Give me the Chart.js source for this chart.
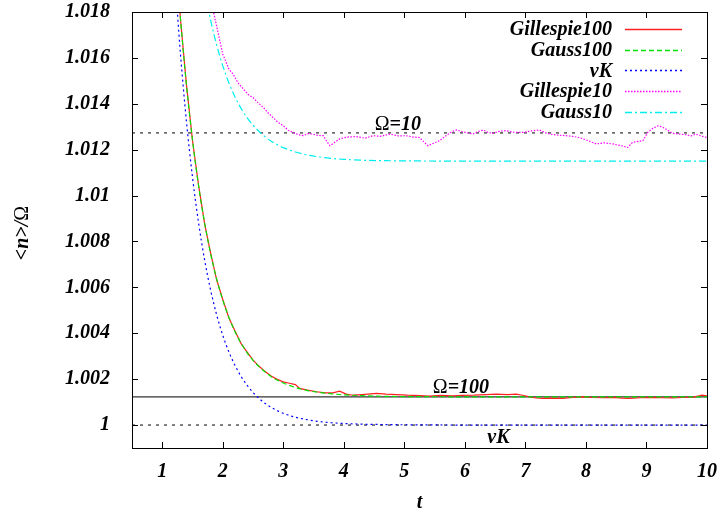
<!DOCTYPE html>
<html lang="en">
<head>
<meta charset="UTF-8">
<title>Mean copy number relaxation</title>
<script src="https://cdn.jsdelivr.net/npm/chart.js@4.4.0/dist/chart.umd.min.js"></script>
<style>
  html, body { margin: 0; padding: 0; background: #fff; }
  canvas { display: block; }
</style>
</head>
<body>
<canvas id="meanChart" width="720" height="513"></canvas>
<script>
// time grid shared by the smooth Ω=100 curves
const tSmooth = [1.2, 1.3, 1.4, 1.5, 1.6, 1.7, 1.8, 1.9, 2.0, 2.1, 2.2, 2.3, 2.4, 2.5, 2.6, 2.7, 2.8, 2.9, 3.0,
                 3.2, 3.4, 3.6, 3.8, 4.0, 4.3, 4.7, 5.2, 6, 7, 8, 9, 10];
const gauss100 = [1.0213, 1.01774, 1.01481, 1.01241, 1.01042, 1.0088, 1.00745, 1.00635, 1.00544, 1.0047,
                  1.00408, 1.00358, 1.00316, 1.00282, 1.00254, 1.00231, 1.00211, 1.00196, 1.00183,
                  1.00164, 1.0015, 1.00142, 1.00136, 1.00132, 1.00128, 1.00125, 1.00124, 1.00123, 1.00123, 1.00123, 1.00123, 1.00123];
const vanKampen = [1.01984, 1.0162, 1.01322, 1.01079, 1.00881, 1.00719, 1.00587, 1.00479, 1.00391, 1.00319,
                   1.00261, 1.00213, 1.00174, 1.00142, 1.00116, 1.00094, 1.00077, 1.00063, 1.00051,
                   1.00034, 1.00023, 1.00015, 1.0001, 1.00007, 1.00004, 1.00002, 1.00001, 1, 1, 1, 1, 1];

// stochastic run, Ω=100
const tG100 = [1.2, 1.3, 1.4, 1.5, 1.6, 1.7, 1.8, 1.9, 2.0, 2.1, 2.2, 2.3, 2.4, 2.5, 2.6, 2.7, 2.8, 2.9, 3.0,
               3.1, 3.2, 3.27, 3.4, 3.55, 3.7, 3.82, 3.93, 4.04, 4.15,
               4.3, 4.54, 4.7, 4.87, 5.05, 5.25, 5.42, 5.6, 5.8, 5.96,
               6.15, 6.35, 6.52, 6.7, 6.85, 6.95, 7.07, 7.18, 7.29, 7.45,
               7.62, 7.78, 7.95, 8.1, 8.28, 8.45, 8.6, 8.72, 8.9, 9.08,
               9.27, 9.43, 9.6, 9.78, 9.92, 10];
const gillespie100 = [1.0213, 1.01772, 1.01483, 1.01239, 1.01045, 1.00877, 1.00748, 1.00632, 1.00547, 1.00468,
                      1.00411, 1.00356, 1.00319, 1.00283, 1.00256, 1.00233, 1.00214, 1.00199, 1.00188,
                      1.00182, 1.00176, 1.0016, 1.00152, 1.00145, 1.0014, 1.0014, 1.00148, 1.00135, 1.0013,
                      1.00133, 1.00138, 1.00135, 1.00133, 1.0013, 1.00128, 1.00126, 1.00129, 1.00127, 1.00129,
                      1.0013, 1.00133, 1.00135, 1.00133, 1.00135, 1.0013, 1.00123, 1.00118, 1.00116, 1.00117,
                      1.00116, 1.0012, 1.00123, 1.0012, 1.00119, 1.00121, 1.00117, 1.00116, 1.00119, 1.00121,
                      1.00119, 1.00118, 1.0012, 1.00122, 1.0013, 1.00127];

// stochastic run, Ω=10
const tG10 = [1.8, 1.85, 1.93, 2.0, 2.1, 2.17, 2.25, 2.34, 2.42, 2.5,
              2.58, 2.67, 2.75, 2.83, 2.91, 3.0, 3.08, 3.16, 3.25, 3.33,
              3.41, 3.49, 3.57, 3.66, 3.72, 3.77, 3.85, 3.93, 4.05, 4.2,
              4.35, 4.48, 4.6, 4.76, 4.9, 5.03, 5.15, 5.25, 5.33, 5.39,
              5.48, 5.58, 5.69, 5.78, 5.86, 5.95, 6.02, 6.13, 6.21, 6.3,
              6.38, 6.46, 6.57, 6.68, 6.8, 6.96, 7.1, 7.23, 7.32, 7.4,
              7.52, 7.67, 7.78, 7.89, 8.03, 8.17, 8.3, 8.44, 8.57, 8.69,
              8.77, 8.86, 8.94, 9.02, 9.1, 9.19, 9.27, 9.32, 9.43, 9.55,
              9.65, 9.74, 9.82, 9.9, 10];
const gillespie10 = [1.0186, 1.01796, 1.017, 1.01616, 1.01552, 1.01529, 1.01492, 1.01464, 1.0144, 1.01427,
                     1.01405, 1.01384, 1.0136, 1.0134, 1.0132, 1.01304, 1.01285, 1.01275, 1.01265, 1.01261,
                     1.0127, 1.01268, 1.01262, 1.01261, 1.01235, 1.01217, 1.01232, 1.01247, 1.01255, 1.01257,
                     1.0125, 1.01261, 1.01258, 1.01268, 1.0126, 1.01261, 1.01255, 1.01253, 1.01232, 1.01217,
                     1.01228, 1.01239, 1.01261, 1.01278, 1.01286, 1.01279, 1.01275, 1.01268, 1.01278, 1.01286,
                     1.01276, 1.01271, 1.0128, 1.01283, 1.01276, 1.01275, 1.01282, 1.01286, 1.01275, 1.01268,
                     1.01264, 1.01261, 1.01258, 1.01253, 1.0124, 1.01225, 1.0123, 1.01225, 1.01218, 1.0121,
                     1.01232, 1.01236, 1.01239, 1.01275, 1.01292, 1.01304, 1.01298, 1.0129, 1.01271, 1.01268,
                     1.01265, 1.0126, 1.01268, 1.0126, 1.01253];

// Gaussian approximation, Ω=10
const tGauss10 = [1.7, 1.8, 1.9, 2.0, 2.1, 2.2, 2.3, 2.4, 2.5, 2.6, 2.7, 2.8, 2.9, 3.0,
                  3.2, 3.4, 3.6, 3.8, 4.0, 4.3, 4.7, 5.2, 6, 7, 8, 9, 10];
const gauss10 = [1.01895, 1.01763, 1.01655, 1.01565, 1.01492, 1.01431, 1.01381, 1.0134, 1.01307, 1.01279,
                 1.01256, 1.01237, 1.01222, 1.01209, 1.0119, 1.01177, 1.01168, 1.01162, 1.01158,
                 1.01154, 1.01152, 1.01151, 1.0115, 1.0115, 1.0115, 1.0115, 1.0115];

// stationary levels
const levelOmega10 = 1.01273;
const levelOmega100 = 1.00123;
const levelVK = 1.0;

const xTicks = [1, 2, 3, 4, 5, 6, 7, 8, 9, 10];
const yTicks = [1, 1.002, 1.004, 1.006, 1.008, 1.01, 1.012, 1.014, 1.016, 1.018];
const yTickLabels = ['1', '1.002', '1.004', '1.006', '1.008', '1.01', '1.012', '1.014', '1.016', '1.018'];

const SERIF = "'Liberation Serif', 'DejaVu Serif', serif";
const BI = 'bold italic 20px ' + SERIF;
const UP = '20px ' + SERIF;

const pairs = (ts, vs) => ts.map((t, i) => ({ x: t, y: vs[i] }));
const flat = v => [{ x: 0.5, y: v }, { x: 10, y: v }];

const curves = [
  { label: 'Gillespie100', data: pairs(tG100, gillespie100), borderColor: '#ff2020', borderDash: [], order: 5 },
  { label: 'Gauss100', data: pairs(tSmooth, gauss100), borderColor: '#00e000', borderDash: [5, 3], order: 4, cubicInterpolationMode: 'monotone' },
  { label: 'vK', data: pairs(tSmooth, vanKampen), borderColor: '#0000ff', borderDash: [2, 3], order: 3, cubicInterpolationMode: 'monotone' },
  { label: 'Gillespie10', data: pairs(tG10, gillespie10), borderColor: '#ff00ff', borderDash: [1.5, 1.5], order: 2 },
  { label: 'Gauss10', data: pairs(tGauss10, gauss10), borderColor: '#00eeee', borderDash: [7, 3, 2, 3], order: 1, cubicInterpolationMode: 'monotone' }
];
curves.forEach(c => { c.borderWidth = 1.2; c.pointRadius = 0; c.fill = false; c.tension = 0; });

const levels = [
  { label: '_o10', data: flat(levelOmega10), borderColor: '#000', borderDash: [3, 5], borderWidth: 1, order: 10 },
  { label: '_o100', data: flat(levelOmega100), borderColor: '#333', borderDash: [], borderWidth: 1.4, order: 9 },
  { label: '_vk', data: flat(levelVK), borderColor: '#000', borderDash: [3, 5], borderWidth: 1, order: 8 }
];
levels.forEach(c => { c.pointRadius = 0; c.fill = false; });

// text placed next to the stationary levels
const levelNotes = [
  { parts: [['Ω', UP], ['=10', BI]], t: 4.51, v: levelOmega10, dy: -3 },
  { parts: [['Ω', UP], ['=100', BI]], t: 5.47, v: levelOmega100, dy: -4 },
  { parts: [['vK', BI]], t: 6.37, v: levelVK, dy: 18 }
];

function drawParts(ctx, parts, x, y) {
  parts.forEach(([s, f]) => {
    ctx.font = f;
    ctx.fillText(s, x, y);
    x += ctx.measureText(s).width;
  });
}
function partsWidth(ctx, parts) {
  return parts.reduce((w, [s, f]) => { ctx.font = f; return w + ctx.measureText(s).width; }, 0);
}

const decorations = {
  id: 'decorations',
  afterDraw(chart) {
    const { ctx, chartArea: a, scales: { x, y } } = chart;
    ctx.save();
    // frame with inward ticks
    ctx.strokeStyle = '#000';
    ctx.lineWidth = 1;
    ctx.setLineDash([]);
    ctx.strokeRect(a.left + 0.5, a.top + 0.5, a.right - a.left, a.bottom - a.top);
    ctx.beginPath();
    x.ticks.forEach(tk => {
      const px = Math.round(x.getPixelForValue(tk.value)) + 0.5;
      ctx.moveTo(px, a.bottom); ctx.lineTo(px, a.bottom - 6);
      ctx.moveTo(px, a.top); ctx.lineTo(px, a.top + 6);
    });
    y.ticks.forEach(tk => {
      const py = Math.round(y.getPixelForValue(tk.value)) + 0.5;
      ctx.moveTo(a.left, py); ctx.lineTo(a.left + 6, py);
      ctx.moveTo(a.right, py); ctx.lineTo(a.right - 6, py);
    });
    ctx.stroke();

    ctx.fillStyle = '#000';
    ctx.textBaseline = 'alphabetic';
    ctx.textAlign = 'left';
    levelNotes.forEach(n => {
      drawParts(ctx, n.parts, x.getPixelForValue(n.t), y.getPixelForValue(n.v) + n.dy);
    });

    // axis titles
    ctx.font = BI;
    ctx.textAlign = 'center';
    ctx.fillText('t', (a.left + a.right) / 2, 508);
    const yTitle = [['<', BI], ['n', BI], ['>/', BI], ['Ω', UP]];
    ctx.translate(28, (a.top + a.bottom) / 2 + 3);
    ctx.rotate(-Math.PI / 2);
    ctx.textAlign = 'left';
    drawParts(ctx, yTitle, -partsWidth(ctx, yTitle) / 2, 0);
    ctx.setTransform(1, 0, 0, 1, 0, 0);

    // key, top right
    ctx.textAlign = 'right';
    ctx.textBaseline = 'middle';
    ctx.font = BI;
    curves.forEach((c, i) => {
      const ry = 29 + i * 20.7;
      ctx.fillStyle = '#000';
      ctx.fillText(c.label, 612, ry + 1);
      ctx.strokeStyle = c.borderColor;
      ctx.lineWidth = 1.3;
      ctx.setLineDash(c.borderDash);
      ctx.beginPath();
      ctx.moveTo(625, Math.round(ry) + 0.5);
      ctx.lineTo(682, Math.round(ry) + 0.5);
      ctx.stroke();
    });
    ctx.restore();
  }
};

new Chart(document.getElementById('meanChart'), {
  type: 'line',
  data: { datasets: [...levels, ...curves] },
  options: {
    responsive: false,
    animation: false,
    devicePixelRatio: 1,
    layout: { padding: { top: 12, right: 13, left: 0, bottom: 0 } },
    plugins: { legend: { display: false }, tooltip: { enabled: false } },
    scales: {
      x: {
        type: 'linear', min: 0.5, max: 10,
        afterBuildTicks: s => { s.ticks = xTicks.map(v => ({ value: v })); },
        afterFit: s => { s.height = 65; s.paddingLeft = 0; s.paddingRight = 0; },
        grid: { display: false }, border: { display: false },
        ticks: { autoSkip: false, maxRotation: 0, padding: 4, color: '#000',
                 font: { family: SERIF, size: 20, style: 'italic', weight: 'bold' } }
      },
      y: {
        type: 'linear', min: 0.999, max: 1.018,
        afterBuildTicks: s => { s.ticks = yTicks.map(v => ({ value: v })); },
        afterFit: s => { s.width = 132; s.paddingTop = 0; s.paddingBottom = 0; },
        grid: { display: false }, border: { display: false },
        ticks: { autoSkip: false, padding: 14, color: '#000',
                 callback: (v, i) => yTickLabels[i],
                 font: { family: SERIF, size: 20, style: 'italic', weight: 'bold' } }
      }
    }
  },
  plugins: [decorations]
});
</script>
</body>
</html>
